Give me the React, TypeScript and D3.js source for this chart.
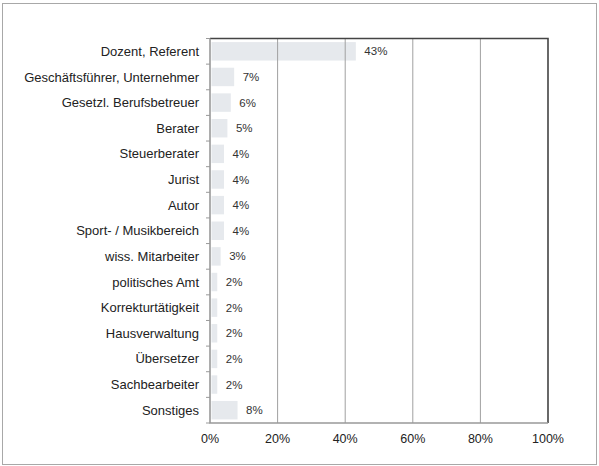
import * as React from "react"
import { useEffect } from "react"
import * as d3 from "d3"

const categories = [
  "Dozent, Referent",
  "Geschäftsführer, Unternehmer",
  "Gesetzl. Berufsbetreuer",
  "Berater",
  "Steuerberater",
  "Jurist",
  "Autor",
  "Sport- / Musikbereich",
  "wiss. Mitarbeiter",
  "politisches Amt",
  "Korrekturtätigkeit",
  "Hausverwaltung",
  "Übersetzer",
  "Sachbearbeiter",
  "Sonstiges",
]
const values = [43, 7, 6, 5, 4, 4, 4, 4, 3, 2, 2, 2, 2, 2, 8]
const xTicks = [0, 20, 40, 60, 80, 100]

const width = 599
const height = 466
const margin = { top: 38.5, right: 51, bottom: 43, left: 210 }
const font = "'Liberation Sans', Arial, sans-serif"

export default function App() {
  useEffect(() => {
    document.body.style.margin = "0"
  }, [])

  const x = d3.scaleLinear().domain([0, 100]).range([margin.left, width - margin.right])
  const y = d3.scaleBand<string>()
    .domain(categories)
    .range([margin.top, height - margin.bottom])
    .paddingInner(0.28)
    .paddingOuter(0.14)
  const band = d3.scaleBand<string>()
    .domain(categories)
    .range([margin.top, height - margin.bottom])

  const x0 = x(0)
  const x1 = x(100)
  const y0 = margin.top
  const y1 = height - margin.bottom

  return (
    <svg width={width} height={height} style={{ display: "block" }} fontFamily={font}>
      <rect x={2.5} y={3.5} width={594} height={461} fill="#fff" stroke="#a8a8a8" strokeWidth={1} />
      {categories.map((c, i) => (
        <rect
          key={c}
          x={x0 + 1.5}
          y={y(c)}
          width={x(values[i]) - x0 - 1}
          height={y.bandwidth()}
          fill="#e6e9ed"
        />
      ))}
      {xTicks.slice(1, -1).map(t => (
        <line key={t} x1={x(t)} x2={x(t)} y1={y0} y2={y1} stroke="#a0a0a0" strokeWidth={1} />
      ))}
      {/* frame: dark top/right, grey axes left/bottom */}
      <path d={`M${x0},${y0}H${x1}V${y1}`} fill="none" stroke="#444" strokeWidth={1.6} />
      <path d={`M${x0},${y0}V${y1}H${x1}`} fill="none" stroke="#999" strokeWidth={1.6} />
      {categories.map(c => (
        <line key={c} x1={x0 - 4} x2={x0} y1={band(c)} y2={band(c)} stroke="#999" strokeWidth={1} />
      ))}
      <line x1={x0 - 4} x2={x0} y1={y1} y2={y1} stroke="#999" strokeWidth={1} />
      {categories.map((c, i) => (
        <text
          key={c}
          x={199}
          y={(y(c) as number) + y.bandwidth() / 2}
          dy="0.35em"
          textAnchor="end"
          fontSize={13}
          fill="#222"
        >
          {c}
        </text>
      ))}
      {categories.map((c, i) => (
        <text
          key={c}
          x={x(values[i]) + 9}
          y={(y(c) as number) + y.bandwidth() / 2}
          dy="0.35em"
          fontSize={11.5}
          fill="#333"
        >
          {values[i]}%
        </text>
      ))}
      {xTicks.map(t => (
        <text key={t} x={x(t)} y={443} textAnchor="middle" fontSize={12.5} fill="#222">
          {t}%
        </text>
      ))}
    </svg>
  )
}
